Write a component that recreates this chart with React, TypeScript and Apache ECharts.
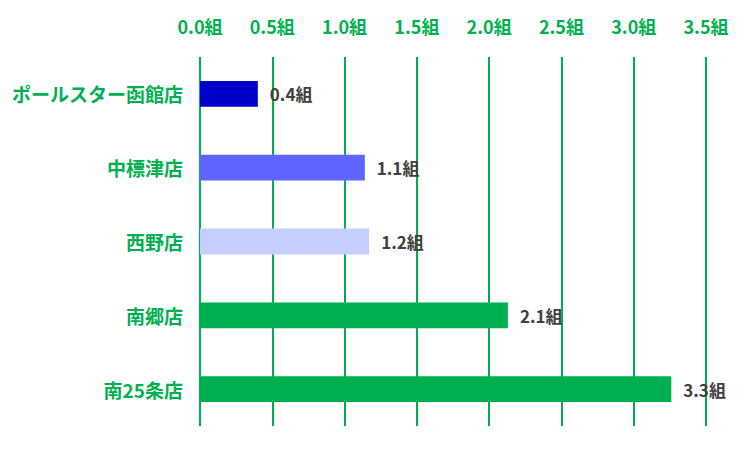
import React, { useEffect, useRef } from "react";
import * as echarts from "echarts";

const stores = ["ポールスター函館店", "中標津店", "西野店", "南郷店", "南25条店"];
const groups = [0.4, 1.14, 1.17, 2.13, 3.26];
const barColors = ["#0000CC", "#6064FF", "#C4CFFF", "#00B050", "#00B050"];

const green = "#00B050";
const font = "'Noto Sans CJK JP', 'Noto Sans', sans-serif";

const App: React.FC = () => {
  const chartRef = useRef<HTMLDivElement>(null);

  useEffect(() => {
    if (!chartRef.current) return;
    const chart = echarts.init(chartRef.current, undefined, { renderer: "svg" });

    const option: echarts.EChartsOption = {
      animation: false,
      backgroundColor: "#ffffff",
      grid: { left: 192, right: 36, top: 49, bottom: 16 },
      xAxis: {
        type: "value",
        position: "top",
        min: 0,
        max: 3.5,
        interval: 0.5,
        axisLine: { show: false },
        axisTick: { show: false },
        axisLabel: {
          color: green,
          fontFamily: font,
          fontWeight: "bold",
          fontSize: 18,
          margin: 22,
          formatter: (v: number) => v.toFixed(1) + "組",
        },
        splitLine: { lineStyle: { color: green, width: 2 } },
      },
      yAxis: {
        type: "category",
        inverse: true,
        data: stores,
        axisLine: { show: false },
        axisTick: { show: false },
        axisLabel: {
          color: green,
          fontFamily: font,
          fontWeight: "bold",
          fontSize: 19,
          margin: 17,
        },
      },
      series: [
        {
          type: "bar",
          data: groups.map((v, i) => ({ value: v, itemStyle: { color: barColors[i] } })),
          barWidth: "35%",
          label: {
            show: true,
            position: "right",
            distance: 12,
            color: "#404040",
            fontFamily: font,
            fontWeight: "bold",
            fontSize: 17,
            formatter: (p: any) => (p.value as number).toFixed(1) + "組",
          },
        },
      ],
    };

    chart.setOption(option);
    return () => chart.dispose();
  }, []);

  return <div ref={chartRef} style={{ width: 734, height: 434 }} />;
};

export default App;
